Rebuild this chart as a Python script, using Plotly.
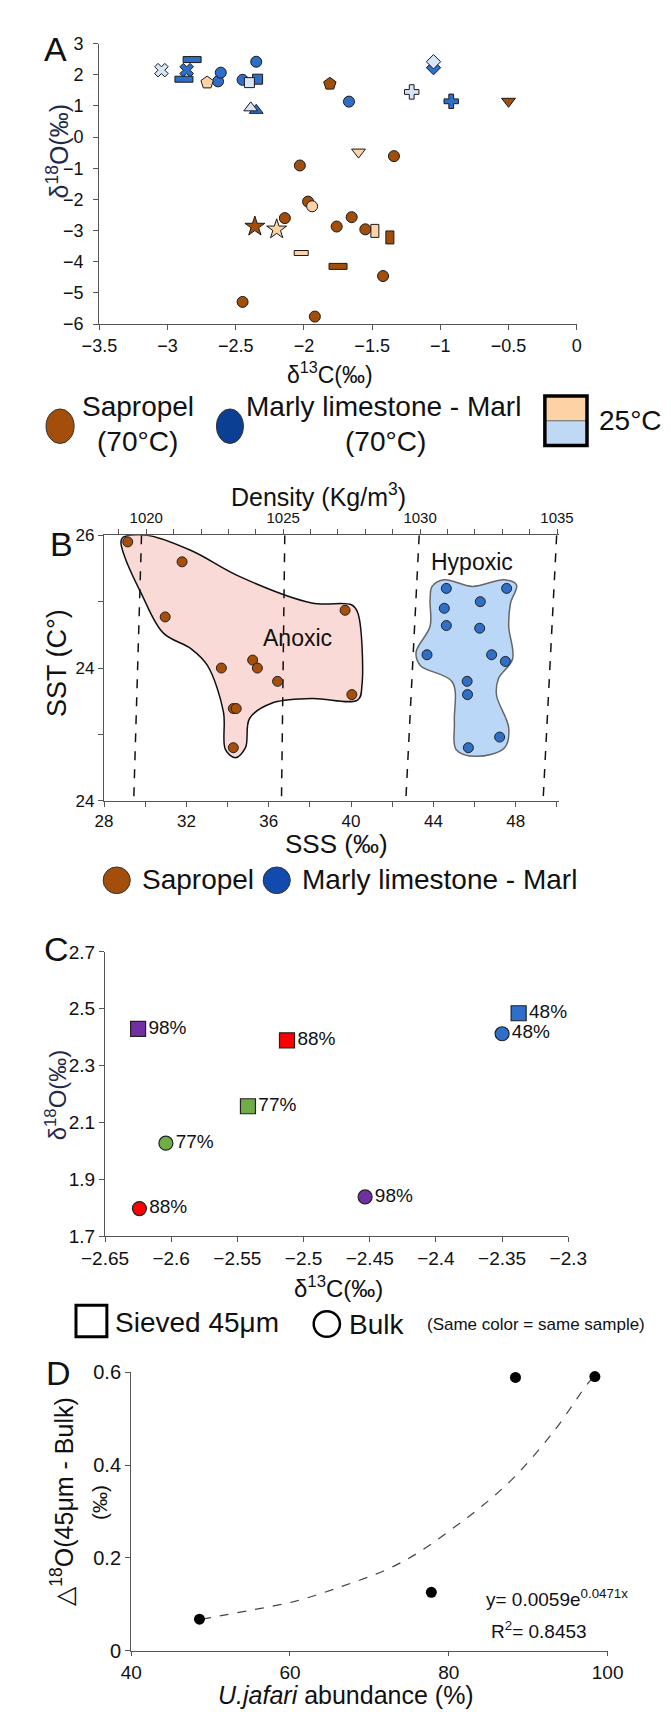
import plotly.graph_objects as go

W, H = 671, 1712
FONT = "Liberation Sans, Arial, sans-serif"

# ---------------- panel A : d13C vs d18O ----------------
sap70_x = [-2.03, -1.97, -2.14, -1.76, -1.65, -1.55, -1.34, -1.42, -2.45, -1.92, -1.81, -2.36, -0.50]
sap70_y = [-0.91, -2.07, -2.60, -2.87, -2.57, -2.96, -0.61, -4.46, -5.29, -5.76, 1.71, -2.87, 1.15]
sap70_sym = ["circle", "circle", "circle", "circle", "circle", "circle", "circle", "circle",
             "circle", "circle", "pentagon", "star", "triangle-down"]

marl70_x = [-2.63, -2.61, -2.45, -2.35, -1.67, -2.34, -2.35, -2.86, -1.05, -0.92]
marl70_y = [1.79, 2.07, 1.84, 2.42, 1.14, 1.86, 0.86, 2.15, 2.23, 1.15]
marl70_sym = ["circle", "circle", "circle", "circle", "circle", "square", "triangle-up", "x",
              "diamond", "cross"]

sap25_x = [-2.71, -2.20, -1.60, -1.94]
sap25_y = [1.75, -2.96, -0.48, -2.22]
sap25_sym = ["pentagon", "star", "triangle-down", "circle"]

marl25_x = [-3.045, -2.40, -2.39, -1.05, -1.21]
marl25_y = [2.15, 1.75, 0.94, 2.42, 1.45]
marl25_sym = ["x", "square", "triangle-up", "diamond", "cross"]

# rectangle-shaped samples (h = flat bar, v = upright bar)
bar_x = [-2.82, -2.88, -1.75, -2.02, -1.37, -1.48]
bar_y = [2.49, 1.86, -4.15, -3.72, -3.22, -3.01]
bar_dir = ["h", "h", "h", "h", "v", "v"]
bar_grp = ["marl70", "marl70", "sap70", "sap25", "sap70", "sap25"]

# ---------------- panel B : SSS vs SST ----------------
sap_sss = [29.15, 31.79, 30.97, 39.71, 35.22, 35.45, 33.70, 36.43, 40.04, 34.28, 34.42, 34.28]
sap_sst = [25.90, 25.60, 24.77, 24.87, 24.12, 24.00, 24.00, 23.80, 23.60, 23.39, 23.39, 22.80]
marl_sss = [44.63, 47.56, 44.53, 46.28, 44.63, 46.25, 43.69, 46.83, 47.50, 45.64, 45.66, 47.22, 45.70]
marl_sst = [25.20, 25.20, 24.90, 25.00, 24.64, 24.60, 24.20, 24.20, 24.10, 23.80, 23.60, 22.96, 22.80]

anox_sss = [28.92, 30.09, 32.23, 34.57, 38.09, 40.04, 40.33, 40.53, 40.33, 38.09, 36.14, 35.07,
            34.87, 34.38, 33.90, 33.80, 33.02, 32.23, 30.87, 29.80, 29.01, 28.82, 28.92]
anox_sst = [25.97, 26.00, 25.77, 25.38, 24.98, 24.95, 24.83, 23.74, 23.52, 23.54, 23.47, 23.24,
            22.80, 22.65, 22.77, 23.34, 24.04, 24.29, 24.53, 25.13, 25.67, 25.90, 25.97]
hypo_sss = [43.94, 44.53, 45.90, 47.46, 48.04, 47.75, 47.66, 47.85, 47.16, 47.07, 47.66, 47.46,
            46.09, 45.11, 45.02, 44.92, 43.36, 43.16, 43.84, 43.84, 43.94]
hypo_sst = [25.23, 25.33, 25.23, 25.33, 25.25, 24.98, 24.63, 24.14, 23.84, 23.59, 23.10, 22.80,
            22.67, 22.77, 23.19, 23.79, 24.04, 24.24, 24.63, 25.03, 25.23]

# isopycnals (SSS where each density line meets the top and bottom of the panel)
dens_top_sss = [29.82, 36.78, 43.31, 49.99]
dens_bot_sss = [29.44, 36.62, 42.66, 49.33]

sss_ticks = [28, 30, 32, 34, 36, 38, 40, 42, 44, 46, 48, 50]
sss_text = ["28", "", "32", "", "36", "", "40", "", "44", "", "48", ""]
sst_ticks = [22, 23, 24, 25, 26]
sst_text = ["24", "", "24", "", "26"]
dens_ticks = list(range(1019, 1036))
dens_text = [str(d) if d % 5 == 0 else "" for d in dens_ticks]

# ---------------- panel C : sieved vs bulk ----------------
sample_lbl = ["98%", "88%", "77%", "48%"]
sample_col = ["#7030A0", "#FF0000", "#70AD47", "#2E6FC9"]
sieved_x = [-2.625, -2.5125, -2.542, -2.3375]
sieved_y = [2.429, 2.389, 2.157, 2.484]
bulk_x = [-2.4535, -2.624, -2.604, -2.350]
bulk_y = [1.838, 1.797, 2.027, 2.412]

# ---------------- panel D ----------------
d_x = [48.6, 77.8, 88.4, 98.4]
d_y = [0.068, 0.126, 0.589, 0.591]
fit_x = [48.9, 54.6, 60.5, 66.4, 72.3, 76.2, 80.2, 83.9, 88.0, 93.1, 97.6, 98.2]
fit_y = [0.068, 0.086, 0.106, 0.138, 0.176, 0.212, 0.260, 0.308, 0.370, 0.470, 0.578, 0.588]

COL = {"sap70": "#A24E0B", "marl70": "#2E6EC8", "sap25": "#FDD3A5", "marl25": "#D6E5F7"}
SIZE = {"circle": 11, "pentagon": 13, "star": 15, "triangle-down": 12, "triangle-up": 12,
        "square": 10, "x": 12, "diamond": 11, "cross": 12}


def fx(p):
    return p / W


def fy(p):
    return 1 - p / H


def axis(dom, rng, size=18, **kw):
    d = dict(domain=dom, range=rng, showline=True, linecolor="#555", linewidth=1.3,
             ticks="outside", ticklen=5, tickcolor="#555", showgrid=False, zeroline=False,
             tickfont=dict(size=size, color="#111"))
    d.update(kw)
    return d


fig = go.Figure()

# panel A
for key, xs, ys, syms in [("marl70", marl70_x, marl70_y, marl70_sym),
                          ("sap70", sap70_x, sap70_y, sap70_sym),
                          ("sap25", sap25_x, sap25_y, sap25_sym),
                          ("marl25", marl25_x, marl25_y, marl25_sym)]:
    fig.add_trace(go.Scatter(
        x=xs, y=ys, mode="markers", xaxis="x", yaxis="y", cliponaxis=False,
        marker=dict(symbol=syms, size=[SIZE[s] for s in syms], color=COL[key], opacity=1,
                    line=dict(color="#1a1a1a", width=1)),
        showlegend=False))

shapes = []
for bx, by, bd, bg in zip(bar_x, bar_y, bar_dir, bar_grp):
    w, h = (18, 6) if bd == "h" else (8, 13)
    if bg == "sap25" and bd == "h":
        w, h = 14, 5
    shapes.append(dict(type="rect", xref="x", yref="y", xsizemode="pixel", ysizemode="pixel",
                       xanchor=bx, yanchor=by, x0=-w / 2, x1=w / 2, y0=-h / 2, y1=h / 2,
                       fillcolor=COL[bg], line=dict(color="#1a1a1a", width=1), layer="above"))

# panel B
fig.add_trace(go.Scatter(x=anox_sss, y=anox_sst, mode="lines", fill="toself",
                         fillcolor="#FADAD6", line=dict(color="#111", width=1.5, shape="spline"),
                         xaxis="x2", yaxis="y2", showlegend=False))
fig.add_trace(go.Scatter(x=hypo_sss, y=hypo_sst, mode="lines", fill="toself",
                         fillcolor="#BBD7F7", line=dict(color="#666", width=1.5, shape="spline"),
                         xaxis="x2", yaxis="y2", showlegend=False))
for t, b in zip(dens_top_sss, dens_bot_sss):
    fig.add_trace(go.Scatter(x=[t, b], y=[sst_ticks[-1], sst_ticks[0]], mode="lines",
                             line=dict(color="#111", width=1.5, dash="dash"),
                             xaxis="x2", yaxis="y2", showlegend=False))
fig.add_trace(go.Scatter(x=sap_sss, y=sap_sst, mode="markers", xaxis="x2", yaxis="y2",
                         cliponaxis=False,
                         marker=dict(size=10, color="#A64F0A", line=dict(color="#222", width=1)),
                         showlegend=False))
fig.add_trace(go.Scatter(x=marl_sss, y=marl_sst, mode="markers", xaxis="x2", yaxis="y2",
                         marker=dict(size=10, color="#2F6FC6", line=dict(color="#222", width=1)),
                         showlegend=False))
# invisible trace to carry the density axis
fig.add_trace(go.Scatter(x=[1020, 1035], y=[26, 26], mode="markers", opacity=0,
                         xaxis="x3", yaxis="y2", showlegend=False, hoverinfo="skip"))

# panel C
fig.add_trace(go.Scatter(x=sieved_x, y=sieved_y, mode="markers+text", text=sample_lbl,
                         textposition="middle right", textfont=dict(size=19, color="#111"),
                         xaxis="x4", yaxis="y4", cliponaxis=False,
                         marker=dict(symbol="square", size=15, color=sample_col, opacity=1,
                                     line=dict(color="#222", width=1.2)),
                         showlegend=False))
fig.add_trace(go.Scatter(x=bulk_x, y=bulk_y, mode="markers+text", text=sample_lbl,
                         textposition="middle right", textfont=dict(size=19, color="#111"),
                         xaxis="x4", yaxis="y4", cliponaxis=False,
                         marker=dict(symbol="circle", size=14, color=sample_col, opacity=1,
                                     line=dict(color="#222", width=1.2)),
                         showlegend=False))

# panel D
fig.add_trace(go.Scatter(x=fit_x, y=fit_y, mode="lines", xaxis="x5", yaxis="y5",
                         line=dict(color="#444", width=1.2, dash="dash", shape="spline"),
                         showlegend=False))
fig.add_trace(go.Scatter(x=d_x, y=d_y, mode="markers", xaxis="x5", yaxis="y5", cliponaxis=False,
                         marker=dict(size=11, color="#000"), showlegend=False))

# legends drawn as shapes
shapes += [
    dict(type="circle", xref="paper", yref="paper", x0=fx(15), x1=fx(45), y0=fy(430), y1=fy(395),
         fillcolor="#A34F0B", line=dict(color="#333", width=1)),
    dict(type="circle", xref="paper", yref="paper", x0=fx(197), x1=fx(226), y0=fy(430), y1=fy(395),
         fillcolor="#0B3F94", line=dict(color="#333", width=1)),
    dict(type="rect", xref="paper", yref="paper", x0=fx(548), x1=fx(593), y0=fy(407), y1=fy(382),
         fillcolor="#FDD3A5", line=dict(width=0)),
    dict(type="rect", xref="paper", yref="paper", x0=fx(548), x1=fx(593), y0=fy(432), y1=fy(407),
         fillcolor="#BFD9F5", line=dict(width=0)),
    dict(type="line", xref="paper", yref="paper", x0=fx(548), x1=fx(593), y0=fy(407), y1=fy(407),
         line=dict(color="#666", width=1)),
    dict(type="rect", xref="paper", yref="paper", x0=fx(548), x1=fx(593), y0=fy(432), y1=fy(382),
         line=dict(color="#000", width=3.5)),
    dict(type="circle", xref="paper", yref="paper", x0=fx(76), x1=fx(105), y0=fy(886), y1=fy(859),
         fillcolor="#A34F0B", line=dict(color="#333", width=1)),
    dict(type="circle", xref="paper", yref="paper", x0=fx(247), x1=fx(276), y0=fy(886), y1=fy(859),
         fillcolor="#114BAF", line=dict(color="#333", width=1)),
    dict(type="rect", xref="paper", yref="paper", x0=fx(47), x1=fx(80), y0=fy(1335), y1=fy(1303),
         fillcolor="white", line=dict(color="#000", width=3)),
    dict(type="circle", xref="paper", yref="paper", x0=fx(301), x1=fx(329), y0=fy(1335), y1=fy(1309),
         fillcolor="white", line=dict(color="#000", width=2.5)),
]

ann = []


def text(s, x, y, size, xa="center", angle=0, color="#111"):
    ann.append(dict(text=s, x=fx(x), y=fy(y), xref="paper", yref="paper", showarrow=False,
                    xanchor=xa, yanchor="middle", textangle=angle,
                    font=dict(size=size, color=color, family=FONT)))


NAVY = "#1E2B4D"
text("A", 25, 30, 34)
text("δ<sup>18</sup>O(‰)", 28, 134, 25, angle=-90, color=NAVY)
text("δ<sup>13</sup>C(‰)", 318, 359, 23)
text("Sapropel", 113, 393, 28)
text("(70°C)", 113, 428, 28)
text("Marly limestone - Marl", 376, 393, 28)
text("(70°C)", 378, 428, 28)
text("25°C", 604, 407, 28, xa="left")

text("B", 31, 532, 34)
text("Density (Kg/m<sup>3</sup>)", 306, 482, 25)
text("SST (C°)", 26, 652, 27, angle=-90)
text("SSS (‰)", 325, 836, 26)
text("Anoxic", 284, 627, 23)
text("Hypoxic", 470, 550, 23)
text("Sapropel", 115, 872, 28, xa="left")
text("Marly limestone - Marl", 286, 872, 28, xa="left")

text("C", 26, 942, 34)
text("δ<sup>18</sup>O(‰)", 26, 1090, 24, angle=-90, color=NAVY)
text("δ<sup>13</sup>C(‰)", 327, 1284, 24)
text("Sieved 45μm", 87, 1320, 28, xa="left")
text("Bulk", 337, 1322, 28, xa="left")
text("(Same color = same sample)", 420, 1322, 17, xa="left")

text("D", 28, 1372, 34)
text("△<sup>18</sup>O(45μm - Bulk)", 32, 1502, 25, angle=-90)
text("(‰)", 72, 1503, 21, angle=-90)
text("<i>U.jafari</i> abundance (%)", 335, 1698, 25)
text("y= 0.0059e<sup>0.0471x</sup>", 483, 1600, 19, xa="left")
text("R<sup>2</sup>= 0.8453", 488, 1632, 19, xa="left")

fig.update_layout(
    width=W, height=H, autosize=False,
    margin=dict(l=0, r=0, t=0, b=0),
    paper_bgcolor="white", plot_bgcolor="white",
    font=dict(family=FONT, color="#111"),
    showlegend=False,
    xaxis=axis([fx(72), fx(582)], [-3.5, 0], anchor="y", dtick=0.5, tick0=-3.5),
    yaxis=axis([fy(309), fy(25)], [-6, 3], anchor="x", dtick=1, ticklabelstandoff=6),
    xaxis2=axis([fx(77), fx(563)], [28, 50.1], size=17, anchor="y2",
                tickvals=sss_ticks, ticktext=sss_text),
    yaxis2=axis([fy(792), fy(523)], [22, 26], size=17, anchor="x2",
                tickvals=sst_ticks, ticktext=sst_text),
    xaxis3=axis([fx(77), fx(563)], [1018.46, 1035.07], size=15, anchor="y2", overlaying="x2",
                side="top", tickvals=dens_ticks, ticktext=dens_text),
    xaxis4=axis([fx(78), fx(573)], [-2.65, -2.3], size=19, anchor="y4", dtick=0.05,
                tick0=-2.65),
    yaxis4=axis([fy(1233), fy(945)], [1.7, 2.7], size=19, anchor="x4", dtick=0.2, tick0=1.7),
    xaxis5=axis([fx(106), fx(615)], [40, 100], size=19, anchor="y5", dtick=20, ticklen=4),
    yaxis5=axis([fy(1653), fy(1371)], [0, 0.6], size=20, anchor="x5", dtick=0.2),
    shapes=shapes,
    annotations=ann,
)

fig.write_html("out.html")
